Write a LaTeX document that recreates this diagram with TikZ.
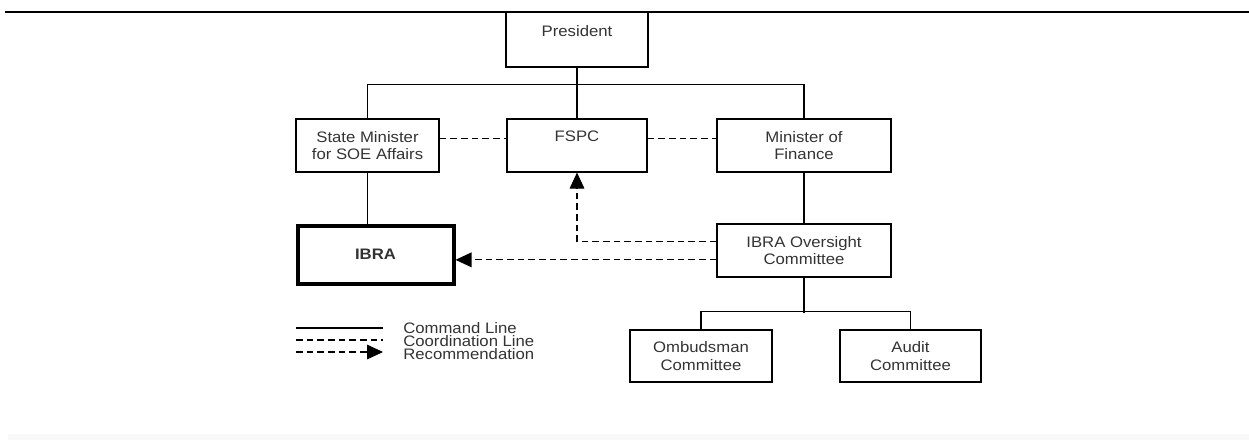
\documentclass[tikz,border=0pt]{standalone}
\usepackage{fontspec}
\setmainfont{Liberation Sans}[FakeStretch=1.1]
\usetikzlibrary{arrows.meta}
\begin{document}
\begin{tikzpicture}[x=0.75pt,y=-0.75pt,
  every node/.style={font=\fontsize{11.4}{13.4}\selectfont, text=black!80},
  box/.style={draw, line width=0.8pt, align=center, inner sep=0pt},
  cmd/.style={draw, line width=0.8pt},
  coordl/.style={draw, line width=0.8pt, dash pattern=on 5pt off 3pt},
  rec/.style={coordl, -{Triangle[length=12pt,width=11pt]}},
  lgd/.style={anchor=west, inner sep=0pt}]
\useasboundingbox (0,0) rectangle (1249,440);
% page rules
\draw[line width=1.4pt] (5,12) -- (1249,12);
\fill[gray!5] (8,434) rectangle (1249,440);
% boxes
\node[box, minimum width=106.5pt, minimum height=41.25pt] (pres) at (577,39.5) {President\\\mbox{}};
\node[box, minimum width=107.25pt, minimum height=39.75pt] (sm) at (367.5,145.5) {State Minister\\for SOE Affairs};
\node[box, minimum width=105pt, minimum height=39.75pt] (fspc) at (577,145.5) {FSPC\\\mbox{}};
\node[box, minimum width=130.5pt, minimum height=39.75pt] (mof) at (804,145.5) {Minister of\\Finance};
\node[box, line width=3pt, minimum width=117pt, minimum height=43.5pt, font=\fontsize{11.4}{13.4}\selectfont\bfseries] (ibra) at (375.5,254.5) {IBRA};
\node[box, minimum width=130.5pt, minimum height=39.75pt] (ovs) at (804,250.5) {IBRA Oversight\\Committee};
\node[box, minimum width=106.5pt, minimum height=39pt] (omb) at (701,356) {Ombudsman\\Committee};
\node[box, minimum width=105.75pt, minimum height=39pt] (aud) at (910.5,356) {Audit\\Committee};
% command lines
\draw[cmd] (pres.south) -- (fspc.north);
\draw[cmd] (sm.north) -- ++(0,-34) -| (mof.north);
\draw[cmd] (sm.south) -- (sm.south |- ibra.north);
\draw[cmd] (mof.south) -- (ovs.north);
\draw[cmd] (omb.north) -- ++(0,-18) -| (aud.north);
\draw[cmd] (ovs.south) -- ++(0,35);
% coordination lines
\draw[coordl] ([yshift=5.5pt]sm.east) -- ([yshift=5.5pt]fspc.west);
\draw[coordl] ([yshift=5.5pt]fspc.east) -- ([yshift=5.5pt]mof.west);
% recommendations
\coordinate (r1) at ([yshift=7pt]ovs.west);
\coordinate (r2) at ([yshift=-7pt]ovs.west);
\draw[rec] (r1) -| (fspc.south);
\draw[rec] (r2) -- (r2 -| ibra.east);
% legend
\coordinate (la1) at (296,328); \coordinate (lb1) at (383,328);
\coordinate (la2) at (296,340); \coordinate (lb2) at (383,340);
\coordinate (la3) at (296,352); \coordinate (lb3) at (383,352);
\draw[cmd] (la1) -- (lb1);
\draw[coordl] (la2) -- (lb2);
\draw[rec] (la3) -- (lb3);
\node[lgd] (t1) at (403,328) {Command Line};
\node[lgd] (t2) at (403,341) {Coordination Line};
\node[lgd] (t3) at (403,354) {Recommendation};
\end{tikzpicture}
\end{document}
